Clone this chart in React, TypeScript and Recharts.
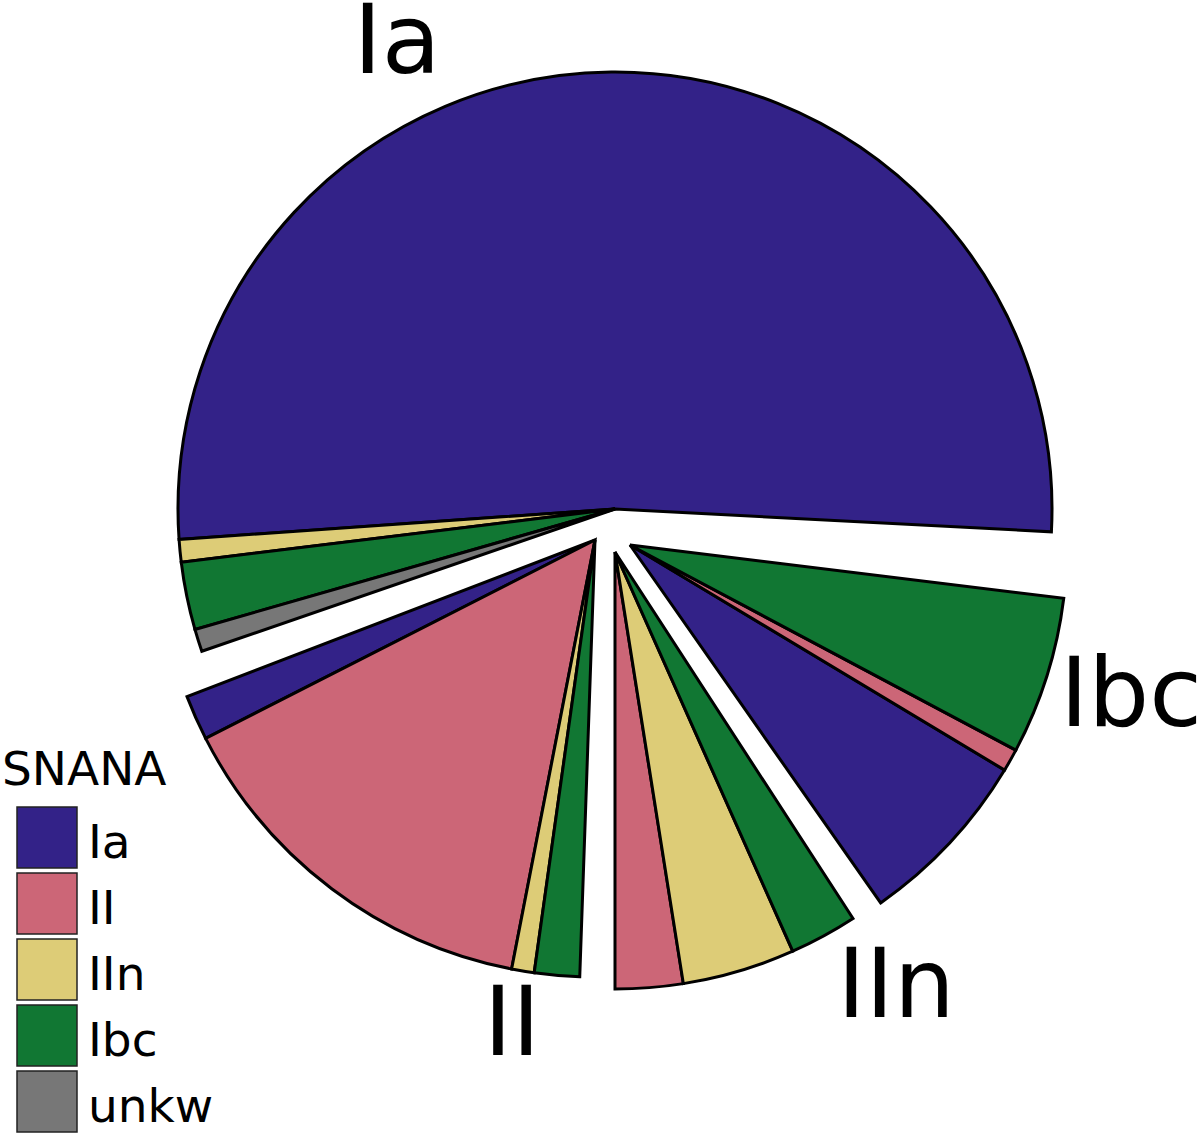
import { PieChart, Pie, Cell, Legend, Customized } from 'recharts'

// SNANA classes (legend order) and their colours
const classes = ['Ia', 'II', 'IIn', 'Ibc', 'unkw']
const classColors = ['#332288', '#CC6677', '#DDCC77', '#117733', '#777777']

// outer groups, drawn counter-clockwise from the right
const groups = ['Ia', 'II', 'IIn', 'Ibc']

// counts per SNANA class inside each group (same order as classes)
const iaGroup = [187, 0, 3, 9, 3]
const iiGroup = [6, 52, 3, 6, 0]
const iinGroup = [0, 9, 15, 9, 0]
const ibcGroup = [24, 3, 0, 21, 0]

const groupCounts = [iaGroup, iiGroup, iinGroup, ibcGroup]

// layout: explode centres, angular gaps, label spots
const groupCentres = [
  [615, 509],
  [595, 540],
  [615, 552],
  [630, 545],
]
const gapAfter = [2, 2, 2, 4]
const labelSpots = [
  [397, 73],
  [512, 1055],
  [896, 1017],
  [1131, 726],
]
const START = -3
const RADIUS = 437
const FONT = '"DejaVu Sans", sans-serif'

const total = groupCounts.flat().reduce((a, b) => a + b, 0)
const degPerCount = (360 - gapAfter.reduce((a, b) => a + b, 0)) / total

let cursor = START
const pies = groups.map((g, gi) => {
  const data = groupCounts[gi]
    .map((v, ci) => ({ name: classes[ci], value: v, color: classColors[ci] }))
    .filter((d) => d.value > 0)
  const sum = data.reduce((a, d) => a + d.value, 0)
  const startAngle = cursor
  const endAngle = cursor + sum * degPerCount
  cursor = endAngle + gapAfter[gi]
  return { g, data, startAngle, endAngle, cx: groupCentres[gi][0], cy: groupCentres[gi][1] }
})

function SnanaLegend() {
  return (
    <svg width={230} height={395} style={{ display: 'block' }}>
      <text x={2} y={45} fontSize={47} fontFamily={FONT} fill="#000">
        SNANA
      </text>
      {classes.map((c, i) => (
        <g key={c}>
          <rect x={17} y={67 + i * 66} width={60} height={61} fill={classColors[i]} stroke="#222" strokeWidth={1.5} />
          <text x={88} y={118 + i * 66} fontSize={47} fontFamily={FONT} fill="#000">
            {c}
          </text>
        </g>
      ))}
    </svg>
  )
}

function GroupLabels() {
  return (
    <g>
      {groups.map((g, i) => (
        <text
          key={g}
          x={labelSpots[i][0]}
          y={labelSpots[i][1]}
          textAnchor="middle"
          fontSize={96}
          fontFamily={FONT}
          fill="#000"
        >
          {g}
        </text>
      ))}
    </g>
  )
}

export default function App() {
  return (
    <div style={{ position: 'absolute', left: 0, top: 0, background: '#fff' }}>
      <PieChart width={1200} height={1135} margin={{ top: 0, right: 0, bottom: 0, left: 0 }}>
        {pies.map((p) => (
          <Pie
            key={p.g}
            data={p.data}
            dataKey="value"
            nameKey="name"
            cx={p.cx}
            cy={p.cy}
            outerRadius={RADIUS}
            innerRadius={0}
            startAngle={p.startAngle}
            endAngle={p.endAngle}
            stroke="#000"
            strokeWidth={3}
            isAnimationActive={false}
          >
            {p.data.map((d) => (
              <Cell key={d.name} fill={d.color} />
            ))}
          </Pie>
        ))}
        <Customized component={GroupLabels} />
        <Legend
          content={() => <SnanaLegend />}
          wrapperStyle={{ position: 'absolute', left: 0, top: 740, bottom: 'auto', width: 230, height: 395 }}
        />
      </PieChart>
    </div>
  )
}
